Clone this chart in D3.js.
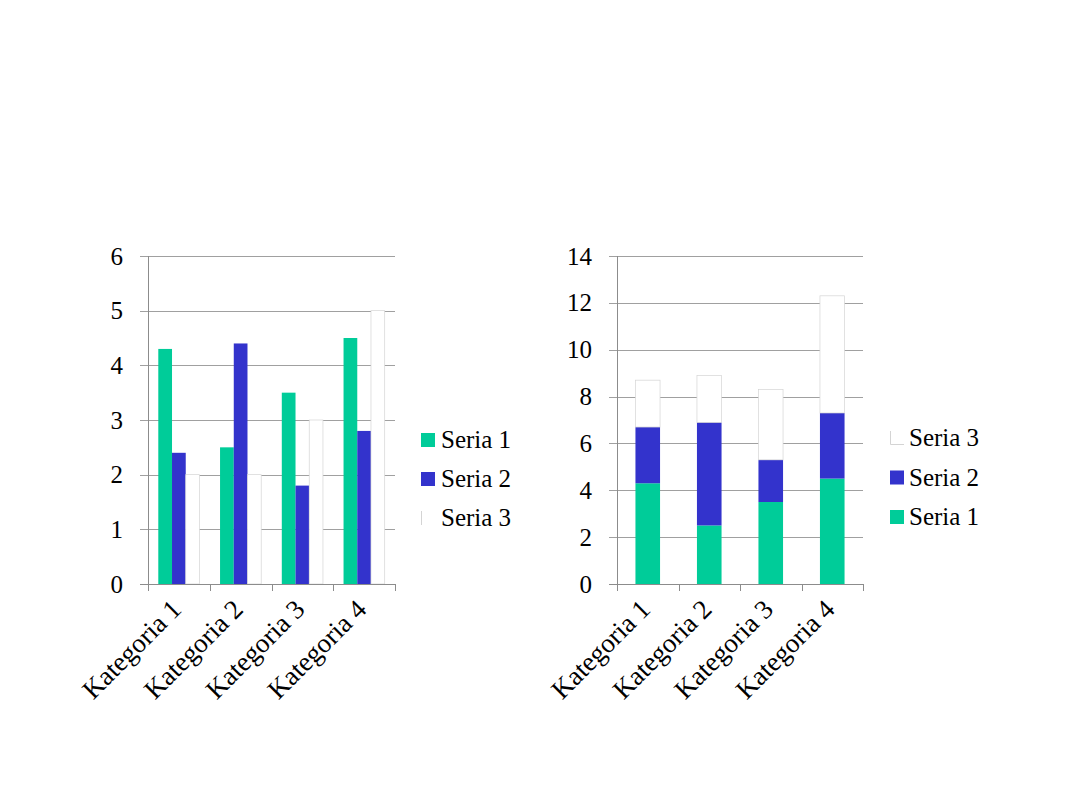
<!DOCTYPE html>
<html>
<head>
<meta charset="utf-8">
<script src="https://cdn.jsdelivr.net/npm/d3@7"></script>
<style>
  html, body { margin: 0; padding: 0; background: #fff; }
  svg { display: block; }
</style>
</head>
<body>
<svg id="chart" width="1080" height="810"></svg>
<script>
const categories = ["Kategoria 1", "Kategoria 2", "Kategoria 3", "Kategoria 4"];
const seriesNames = ["Seria 1", "Seria 2", "Seria 3"];
const seria1 = [4.3, 2.5, 3.5, 4.5];
const seria2 = [2.4, 4.4, 1.8, 2.8];
const seria3 = [2, 2, 3, 5];
const leftTicks = [0, 1, 2, 3, 4, 5, 6];
const rightTicks = [0, 2, 4, 6, 8, 10, 12, 14];

const colors = { "Seria 1": "#00CC99", "Seria 2": "#3333CC", "Seria 3": "#FFFFFF" };
const svg = d3.select("#chart");
const FONT = 25;
const CAT_FONT = 27;
const FAMILY = "'Liberation Serif', Tinos, 'Times New Roman', Times, 'DejaVu Serif', serif";
const GRID = "#a0a0a0";
const AXIS = "#8c8c8c";
const S3STROKE = "#d4d4d4";

const rows = categories.map((c, i) => ({ cat: c, "Seria 1": seria1[i], "Seria 2": seria2[i], "Seria 3": seria3[i] }));

function styleText(sel, size) {
  sel.style("font-family", FAMILY).style("font-size", (size || FONT) + "px").style("fill", "#000");
}

function frame(g, x, y, ticks, left, right, top, bottom) {
  g.append("g").selectAll("line").data(ticks.filter(t => t !== 0)).join("line")
    .attr("x1", left - 8).attr("x2", right)
    .attr("y1", d => Math.round(y(d)) + 0.5).attr("y2", d => Math.round(y(d)) + 0.5)
    .attr("stroke", GRID).attr("stroke-width", 1);
}
function axes(g, x, y, ticks, left, right, top, bottom) {
  const ya = d3.axisLeft(y).tickValues(ticks).tickSize(8).tickPadding(17).tickFormat(d3.format("d"));
  const yg = g.append("g").attr("transform", `translate(${left},0)`).call(ya);
  yg.select(".domain").remove();
  yg.selectAll(".tick line").remove();
  yg.selectAll("text").call(styleText);
  g.append("line").attr("x1", left + 0.5).attr("x2", left + 0.5).attr("y1", top).attr("y2", bottom + 7)
    .attr("stroke", AXIS);
  g.append("line").attr("x1", left - 8).attr("x2", right).attr("y1", bottom + 0.5).attr("y2", bottom + 0.5)
    .attr("stroke", AXIS);
  const edges = categories.map(c => x(c)).concat([x(categories[categories.length - 1]) + x.bandwidth()]);
  g.append("g").selectAll("line").data(edges).join("line")
    .attr("x1", d => Math.round(d) + 0.5).attr("x2", d => Math.round(d) + 0.5)
    .attr("y1", bottom).attr("y2", bottom + 7).attr("stroke", AXIS);
  g.append("g").selectAll("text").data(categories).join("text")
    .attr("transform", d => `translate(${x(d) + x.bandwidth() / 2 + 4},${bottom + 27}) rotate(-45)`)
    .attr("text-anchor", "end").text(d => d).call(styleText, CAT_FONT);
}

// ---------- Left: clustered columns ----------
{
  const left = 148, right = 395, top = 256, bottom = 584;
  const g = svg.append("g");
  const x = d3.scaleBand().domain(categories).range([left, right]).padding(0);
  const y = d3.scaleLinear().domain([0, 6]).range([bottom, top]);
  frame(g, x, y, leftTicks, left, right, top, bottom);
  const bw = x.bandwidth() / 4.5;
  const xs = d3.scaleBand().domain(seriesNames).range([0, bw * 3]).padding(0);
  const grp = g.append("g").selectAll("g").data(rows).join("g")
    .attr("transform", d => `translate(${x(d.cat) + bw * 0.75},0)`);
  grp.selectAll("rect").data(d => seriesNames.map(s => ({ s, v: d[s] }))).join("rect")
    .attr("x", d => xs(d.s)).attr("width", xs.bandwidth())
    .attr("y", d => y(d.v)).attr("height", d => y(0) - y(d.v))
    .attr("fill", d => colors[d.s])
    .attr("stroke", d => d.s === "Seria 3" ? S3STROKE : "none")
    .attr("stroke-width", 0.7);
  axes(g, x, y, leftTicks, left, right, top, bottom);

  const lg = g.append("g");
  const items = ["Seria 1", "Seria 2", "Seria 3"];
  const ly = d3.scalePoint().domain(items).range([440, 518]);
  items.forEach(s => {
    if (s === "Seria 3") {
      lg.append("line").attr("x1", 421.5).attr("x2", 421.5).attr("y1", ly(s) - 7).attr("y2", ly(s) + 7)
        .attr("stroke", S3STROKE);
    } else {
      lg.append("rect").attr("x", 421).attr("y", ly(s) - 7).attr("width", 14).attr("height", 14)
        .attr("fill", colors[s]);
    }
    lg.append("text").attr("x", 441).attr("y", ly(s) + 8).text(s).call(styleText);
  });
}

// ---------- Right: stacked columns ----------
{
  const left = 617, right = 863, top = 256, bottom = 584;
  const g = svg.append("g");
  const x = d3.scaleBand().domain(categories).range([left, right]).padding(0);
  const y = d3.scaleLinear().domain([0, 14]).range([bottom, top]);
  frame(g, x, y, rightTicks, left, right, top, bottom);
  const stack = d3.stack().keys(seriesNames)(rows);
  const bw = x.bandwidth() / 2.5;
  g.append("g").selectAll("g").data(stack).join("g")
    .attr("fill", d => colors[d.key])
    .attr("stroke", d => d.key === "Seria 3" ? S3STROKE : "none")
    .attr("stroke-width", 0.7)
    .selectAll("rect").data(d => d).join("rect")
    .attr("x", d => x(d.data.cat) + (x.bandwidth() - bw) / 2).attr("width", bw)
    .attr("y", d => y(d[1])).attr("height", d => y(d[0]) - y(d[1]));
  axes(g, x, y, rightTicks, left, right, top, bottom);

  const lg = g.append("g");
  const items = ["Seria 3", "Seria 2", "Seria 1"];
  const ly = d3.scalePoint().domain(items).range([438, 517]);
  items.forEach(s => {
    if (s === "Seria 3") {
      lg.append("path").attr("d", `M890.5,${ly(s) - 7}V${ly(s) + 6.5}H904`)
        .attr("fill", "none").attr("stroke", S3STROKE);
    } else {
      lg.append("rect").attr("x", 890).attr("y", ly(s) - 7).attr("width", 14).attr("height", 14)
        .attr("fill", colors[s]);
    }
    lg.append("text").attr("x", 909).attr("y", ly(s) + 8).text(s).call(styleText);
  });
}
</script>
</body>
</html>
